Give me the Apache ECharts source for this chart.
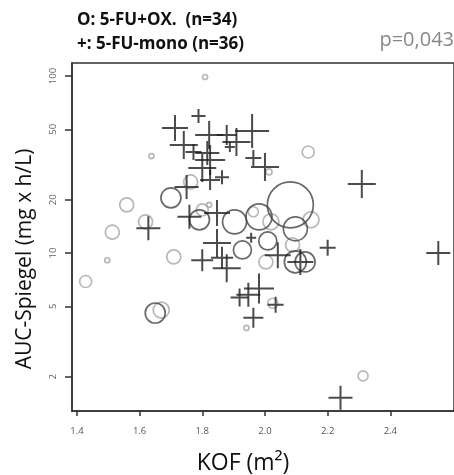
<!DOCTYPE html>
<html><head><meta charset="utf-8">
<script src="https://cdn.jsdelivr.net/npm/echarts@6/dist/echarts.min.js"></script>
<style>html,body{margin:0;padding:0;background:#fff}#c{width:454px;height:475px}</style>
</head><body><div id="c"></div>
<script>
// 5-FU-mono (+)
const monoKOF = [1.713,1.788,1.741,1.822,1.909,1.959,1.888,1.963,2.000,1.816,1.825,1.800,1.863,1.825,2.309,1.750,1.628,1.759,1.847,1.847,1.800,1.878,1.919,1.947,1.981,2.034,1.963,2.241,1.956,2.041,2.113,2.200,2.553,1.863,1.878,1.772];
const monoAUC = [50.8,59.4,40.7,46.4,42.4,48.9,39.7,34.4,30.6,36.7,33.5,30.2,26.8,25.8,24.5,23.6,13.8,16.0,16.8,11.4,9.1,8.2,5.6,5.8,6.3,5.1,4.3,1.52,12.2,9.7,8.9,10.7,10.0,9.4,46.4,37.2];
const monoWeight = [13,7,14,14,14,17,5,8,14,12,15,14,7,10,14,12,12,12,13,14,11,14,9,12,15,8,10,12,5,13,13,8,12,11,10,8];
// 5-FU+OX (O), dark outline
const oxDarkKOF = [1.700,1.791,1.650,2.081,1.903,1.981,2.097,1.928,2.009,2.097,2.128];
const oxDarkAUC = [20.5,15.4,4.58,18.7,15.0,16.0,13.7,10.4,11.7,8.9,8.9];
const oxDarkWeight = [10,10,10,23,12,13,12,9,9,11,10];
// 5-FU+OX (O), light outline
const oxLightKOF = [1.809,1.638,1.559,1.513,1.763,1.619,1.497,1.709,1.800,1.822,1.428,1.669,2.138,2.013,1.963,2.019,2.147,2.088,2.003,2.025,1.941,2.313];
const oxLightAUC = [98.7,35.3,18.7,13.1,25.2,15.0,9.1,9.5,17.5,18.7,6.9,4.76,37.2,28.7,17.1,15.0,15.4,11.1,8.9,5.2,3.77,2.02];
const oxLightWeight = [2.5,2.5,7,7,7,7,2.5,7,6,2.5,6,8,6,3,5,8,8,7,7,5,2.5,5];
const xTicks = [1.4,1.6,1.8,2.0,2.2,2.4];
const yTicks = [2,5,10,20,50,100];

const zip = (a,b,c) => a.map((v,i)=>[v,b[i],c[i]]);
const chart = echarts.init(document.getElementById('c'), null, {renderer:'canvas'});
const font = '"Open Sans", "Liberation Sans", sans-serif';
chart.setOption({
  animation:false,
  grid:{left:72, top:63, width:390, height:348, show:true, borderColor:'#333', borderWidth:1.5, backgroundColor:'#fff'},
  xAxis:{type:'value', min:1.3844, max:2.6031,
    splitLine:{show:false},
    axisLine:{show:true, onZero:false, lineStyle:{color:'#333', width:1.5}},
    axisTick:{show:true, length:5, customValues:xTicks, lineStyle:{color:'#333', width:1.5}},
    axisLabel:{customValues:xTicks, color:'#555', fontSize:9.5, fontFamily:font, margin:15,
      formatter:v=>v.toFixed(1)}
  },
  yAxis:{type:'log', logBase:10, min:1.280, max:118.4,
    splitLine:{show:false}, minorTick:{show:false},
    axisLine:{show:true, lineStyle:{color:'#333', width:1.5}},
    axisTick:{show:true, length:7, customValues:yTicks, lineStyle:{color:'#333', width:1.5}},
    axisLabel:{customValues:yTicks, color:'#666', fontSize:9.5, fontFamily:font, rotate:90, margin:14,
      formatter:v=>String(Math.round(v))}
  },
  series:[
    {type:'scatter', name:'ox-light', data:zip(oxLightKOF,oxLightAUC,oxLightWeight), symbol:'circle',
      symbolSize:d=>d[2]*2, itemStyle:{color:'rgba(0,0,0,0)', borderColor:'#a6a6a6', borderWidth:1.7}, z:2},
    {type:'scatter', name:'ox-dark', data:zip(oxDarkKOF,oxDarkAUC,oxDarkWeight), symbol:'circle',
      symbolSize:d=>d[2]*2, itemStyle:{color:'rgba(0,0,0,0)', borderColor:'#444', borderWidth:1.7}, z:3},
    {type:'scatter', name:'mono', data:zip(monoKOF,monoAUC,monoWeight), symbol:'path://M1,0L1,2M0,1L2,1',
      symbolSize:d=>d[2]*2, itemStyle:{color:'none', borderColor:'#1e1e1e', borderWidth:2}, z:4}
  ],
  graphic:[
    {type:'text', x:77, y:20, style:{text:'O: 5-FU+OX.  (n=34)', font:'bold 17px '+font, fill:'#111', verticalAlign:'middle'}},
    {type:'text', x:77, y:44, style:{text:'+: 5-FU-mono (n=36)', font:'bold 17px '+font, fill:'#111', verticalAlign:'middle'}},
    {type:'text', x:454, y:40, style:{text:'p=0,043', font:'20px '+font, fill:'#888', align:'right', verticalAlign:'middle'}},
    {type:'text', x:243, y:463, style:{text:'KOF (m²)', font:'23px '+font, fill:'#111', align:'center', verticalAlign:'middle'}},
    {type:'text', x:25, y:259, rotation:Math.PI/2, style:{text:'AUC-Spiegel (mg x h/L)', font:'21px '+font, fill:'#111', align:'center', verticalAlign:'middle'}}
  ]
});
</script></body></html>
